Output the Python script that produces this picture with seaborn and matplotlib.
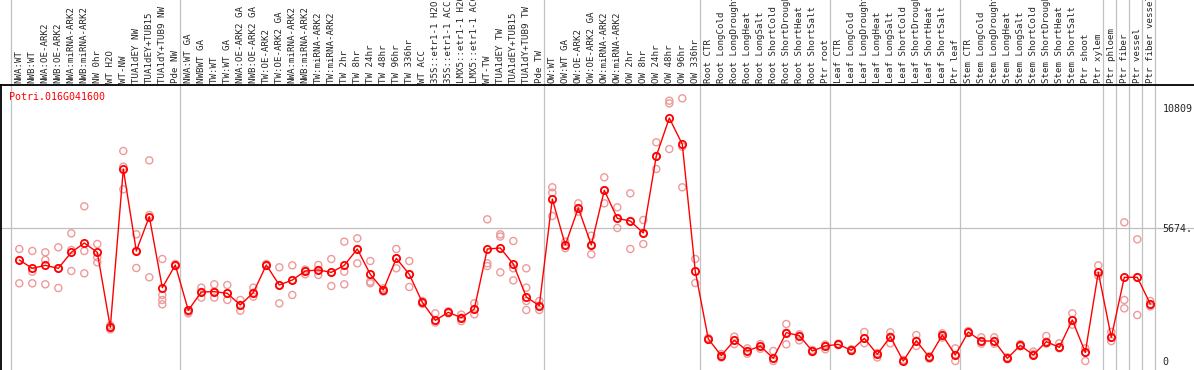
import numpy as np
import pandas as pd
import matplotlib
matplotlib.use("Agg")
import matplotlib.pyplot as plt
import seaborn as sns

gene = "Potri.016G041600"

samples = [
    "NWA:WT", "NWB:WT", "NWA:OE-ARK2", "NWB:OE-ARK2", "NWA:miRNA-ARK2", "NWB:miRNA-ARK2",
    "NW 0hr", "WT H2O", "WT-NW", "TUA1dEY NW", "TUA1dEY+TUB15", "TUA1dY+TUB9 NW", "Pde NW",
    "NWA:WT GA", "NWBWT GA", "TW:WT", "TW:WT GA", "NWA:OE-ARK2 GA", "NWB:OE-ARK2 GA",
    "TW:OE-ARK2", "TW:OE-ARK2 GA", "NWA:miRNA-ARK2", "NWB:miRNA-ARK2", "TW:miRNA-ARK2",
    "TW:miRNA-ARK2", "TW 2hr", "TW 8hr", "TW 24hr", "TW 48hr", "TW 96hr", "TW 336hr",
    "WT ACC", "35S::etr1-1 H2O", "35S::etr1-1 ACC", "LMX5::etr1-1 H2O", "LMX5::etr1-1 ACC",
    "WT-TW", "TUA1dEY TW", "TUA1dEY+TUB15", "TUA1dY+TUB9 TW", "Pde TW",
    "OW:WT", "OW:WT GA", "OW:OE-ARK2", "OW:OE-ARK2 GA", "OW:miRNA-ARK2", "OW:miRNA-ARK2",
    "OW 2hr", "OW 8hr", "OW 24hr", "OW 48hr", "OW 96hr", "OW 336hr",
    "Root CTR", "Root LongCold", "Root LongDrought", "Root LongHeat", "Root LongSalt",
    "Root ShortCold", "Root ShortDrought", "Root ShortHeat", "Root ShortSalt", "Ptr root",
    "Leaf CTR", "Leaf LongCold", "Leaf LongDrought", "Leaf LongHeat", "Leaf LongSalt",
    "Leaf ShortCold", "Leaf ShortDrought", "Leaf ShortHeat", "Leaf ShortSalt", "Ptr leaf",
    "Stem CTR", "Stem LongCold", "Stem LongDrought", "Stem LongHeat", "Stem LongSalt",
    "Stem ShortCold", "Stem ShortDrought", "Stem ShortHeat", "Stem ShortSalt", "Ptr shoot",
    "Ptr xylem", "Ptr phloem", "Ptr fiber", "Ptr vessel", "Ptr fiber vessel",
]

means = [
    4309, 3954, 4081, 3954, 4636, 5034, 4636, 1436, 8191, 4693, 6158, 3129, 4095,
    2162, 2944, 2958, 2887, 2389, 2915, 4095, 3242, 3455, 3839, 3882, 3783, 4081,
    4778, 3697, 3029, 4380, 3697, 2503, 1735, 2076, 1849, 2218, 4778, 4821, 4138,
    2730, 2361, 6911, 4949, 6527, 4949, 7282, 6087, 5972, 5461, 8745, 10366, 9244,
    3825, 938, 228, 881, 427, 640, 114, 1209, 1081, 427, 640, 711, 455, 967, 284,
    1038, 0, 867, 156, 1109, 256, 1237, 853, 853, 114, 668, 256, 825, 583, 1749,
    369, 3783, 1010, 3570, 3570, 2432,
]

replicates = [
    [4778, 3314, 4309], [4693, 3811, 3314], [4636, 4309, 3271], [4850, 3114, 3954],
    [5447, 4735, 3839], [6599, 4693, 3740], [4992, 4423, 4209], [1520, 1350, 1436],
    [8959, 8290, 7325], [5405, 3968, 4693], [8560, 6229, 3570], [4351, 2817, 2603, 2418],
    [4095, 4050, 4140], [2034, 2162, 2100], [3129, 2703, 2944], [3271, 2703, 2958],
    [3242, 2603, 2887], [2603, 2147, 2389], [3129, 2745, 2915], [4095, 4050, 4140],
    [3997, 2460, 3242], [4081, 2817, 3455], [3900, 3700, 3839], [4095, 3669, 3882],
    [4351, 3199, 3783], [5092, 3811, 3271], [5234, 4167, 4778], [4266, 3384, 3320],
    [3100, 2960, 3029], [4778, 3954, 4380], [4266, 3157, 3697], [2560, 2440, 2503],
    [2034, 1640, 1735], [2034, 2076, 2120], [1980, 1700, 1849], [2460, 1991, 2218],
    [6044, 4167, 4050], [5405, 5310, 3783], [5120, 3954, 3440], [3954, 3129, 2560, 2176],
    [2560, 2176, 2361], [7410, 7180, 6186], [5090, 4810, 4949], [6727, 6370, 6527],
    [5345, 4551, 4949], [7837, 6727, 7282], [6556, 5674, 6087], [7154, 4778, 5972],
    [6015, 4991, 5461], [9329, 8191, 8745], [11105, 10990, 9044], [11205, 9144, 7410],
    [4351, 3327, 3825], [938, 900, 980], [150, 228, 300], [1038, 720, 881],
    [540, 310, 427], [725, 520, 640], [427, 0, 114], [1578, 711, 1209],
    [1140, 880, 1081], [427, 380, 470], [500, 640, 700], [711, 680, 740],
    [455, 420, 500], [1237, 760, 967], [150, 284, 340], [1223, 754, 1038],
    [0, 50, 0], [1109, 640, 867], [156, 100, 200], [1180, 1000, 1109],
    [540, 0, 256], [1237, 1200, 1280], [1010, 740, 853], [1010, 740, 853],
    [114, 80, 160], [668, 620, 720], [400, 256, 300], [1066, 740, 825],
    [754, 583, 540], [2034, 1550, 1749], [540, 0, 369], [4081, 3640, 3783],
    [1240, 850, 1010], [5916, 2602, 2247], [5191, 1962, 3570], [2560, 2330, 2432],
]

# group boundaries (number of samples before each vertical separator)
group_breaks = [0, 13, 41, 53, 63, 73, 84, 85, 86, 87, 88]

y_tick_values = [0, 5674, 10809]
y_tick_labels = ["0", "5674.", "10809"]

mean_df = pd.DataFrame({"x": np.arange(len(samples)), "value": means})
rep_rows = []
for i, reps in enumerate(replicates):
    for v in reps:
        rep_rows.append({"x": i, "value": v})
rep_df = pd.DataFrame(rep_rows)

sns.set_style("white")
plt.rcParams["font.family"] = ["DejaVu Sans Mono", "DejaVu Sans"]

W, H = 1194, 370
fig = plt.figure(figsize=(W / 100, H / 100), dpi=100)
plot_top_px = 85
ax = fig.add_axes([1 / W, 0, 1 - 1 / W, (H - plot_top_px) / H])

px_step = 13.0
x0_px = 19.3
ax.set_xlim((1 - x0_px) / px_step, (W - x0_px) / px_step)
val_per_px = 5674 / 133.0
ax.set_ylim((361 - H) * val_per_px, (361 - plot_top_px) * val_per_px)

# separators
for b in group_breaks:
    ax.axvline(b - 0.62, ymin=0, ymax=H / (H - plot_top_px) + 0.01,
               color="#c0c0c0", lw=0.9, clip_on=False, zorder=0)
ax.axhline(5674, color="#c0c0c0", lw=0.9, zorder=0)

sns.scatterplot(data=rep_df, x="x", y="value", ax=ax, marker="o",
                facecolor="none", edgecolor="#ee9a9a", linewidth=1.0, s=26,
                zorder=2, legend=False)
sns.lineplot(data=mean_df, x="x", y="value", ax=ax, color="red", lw=1.0,
             marker="o", markersize=5.2, markerfacecolor="none",
             markeredgecolor="red", markeredgewidth=1.3, zorder=3)

ax.set_xlabel("")
ax.set_ylabel("")
ax.set_xticks(range(len(samples)))
ax.set_xticklabels(samples, rotation=90, fontsize=6.6,
                   family=["DejaVu Sans Mono"])
ax.tick_params(axis="x", top=True, bottom=False, labeltop=True,
               labelbottom=False, length=0, pad=1.5)

ax.yaxis.tick_right()
ax.set_yticks(y_tick_values)
ax.set_yticklabels(y_tick_labels, fontsize=7.2, family=["DejaVu Sans Mono"])
ax.tick_params(axis="y", length=0, pad=-22.5)

for s in ["right", "bottom"]:
    ax.spines[s].set_visible(False)
for s in ["left", "top"]:
    ax.spines[s].set_color("black")
    ax.spines[s].set_linewidth(1.3)

ax.text((9.5 - 1) / W, (H - 97) / (H - plot_top_px), gene, transform=ax.transAxes,
        color="red", fontsize=7.2, ha="left", va="center",
        family=["DejaVu Sans Mono"])

fig.savefig("out.png", dpi=100)
